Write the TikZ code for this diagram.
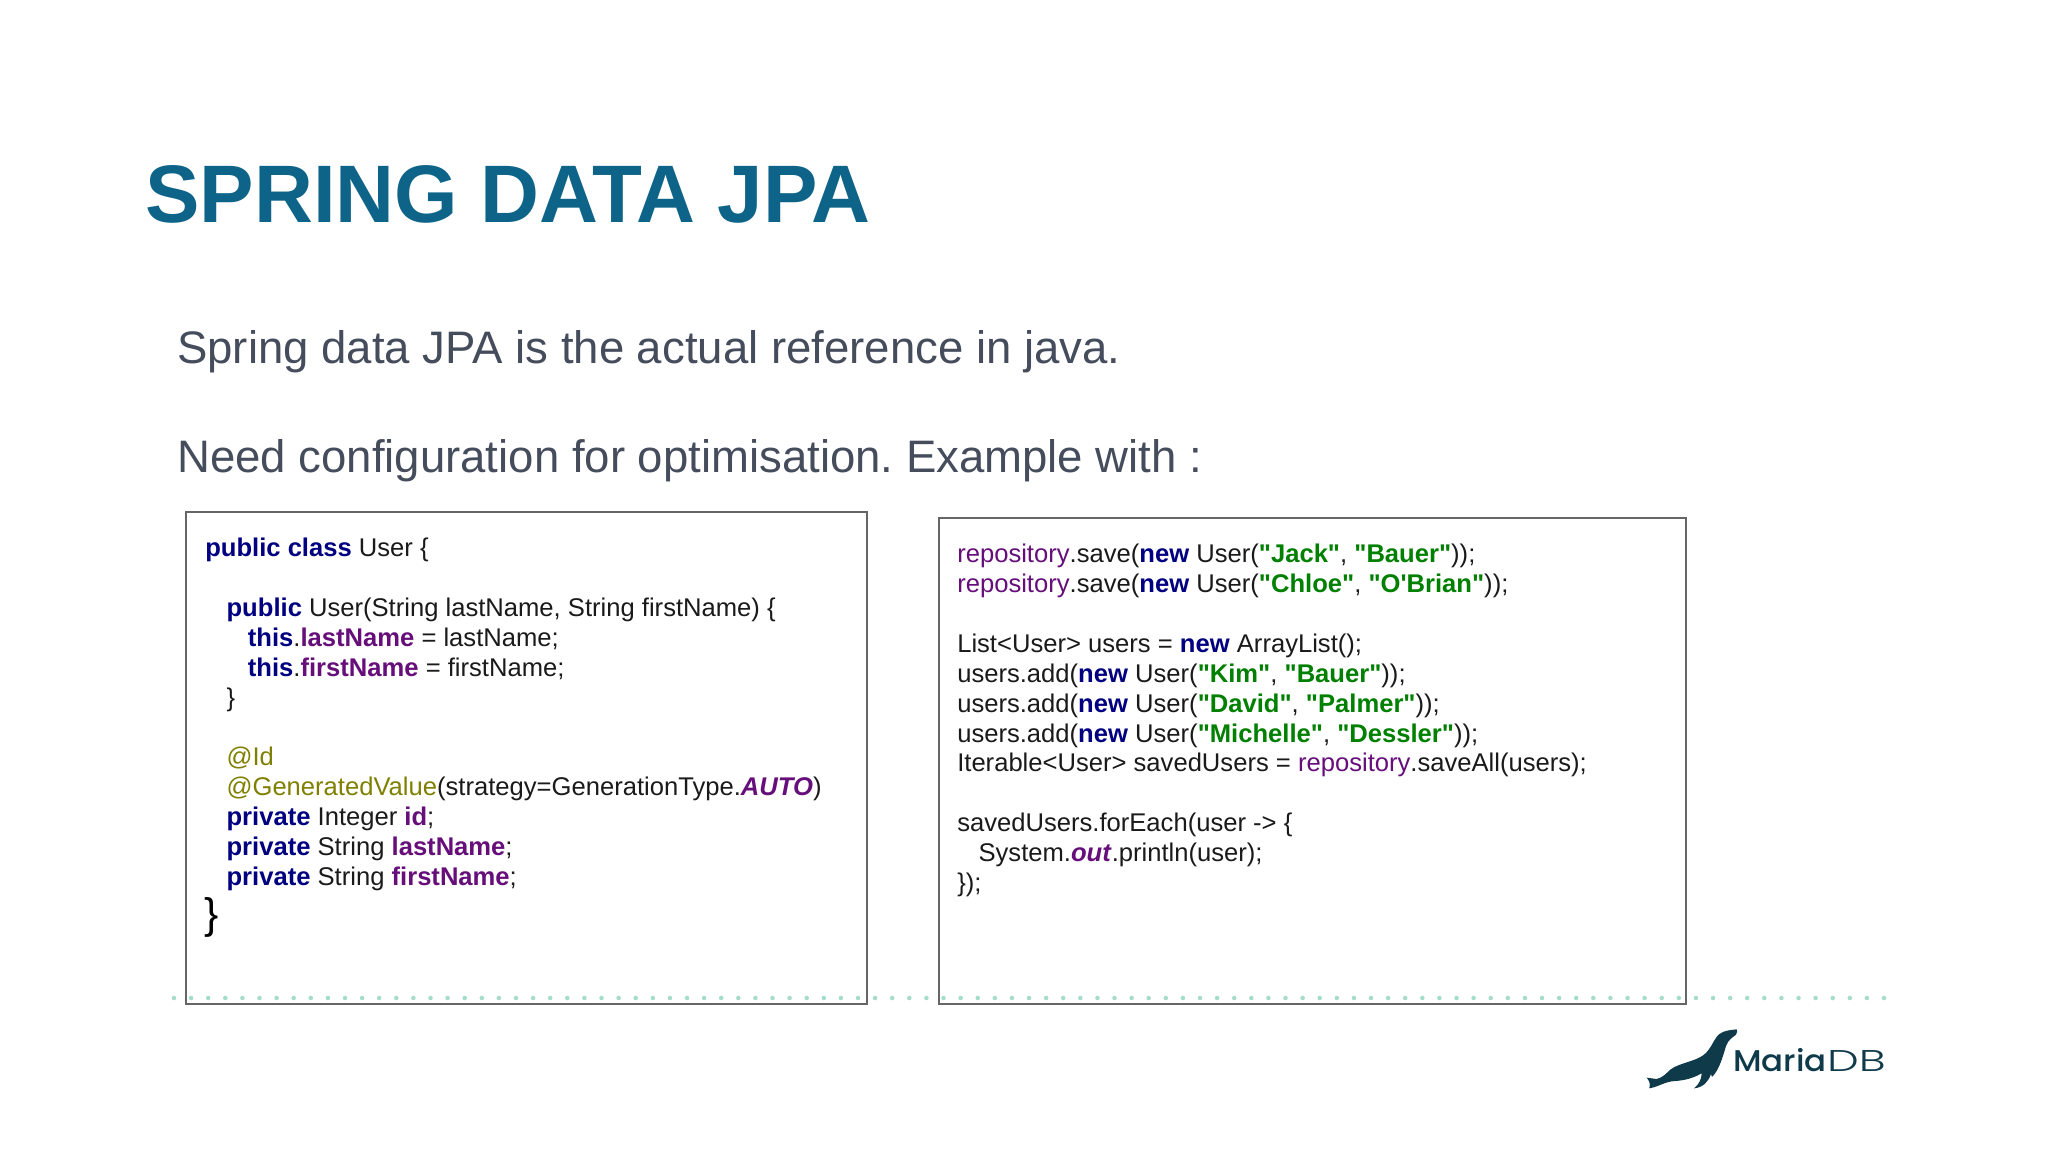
\documentclass[tikz,border=0pt]{standalone}
\usepackage{fontspec}
\setmainfont{Liberation Sans}
\newfontfamily\codefont{Liberation Sans}
\newfontfamily\mariafont{Poppins Medium}[FakeStretch=1.08]
\newfontfamily\dbfont{Poppins Light}[FakeStretch=1.5]
\usetikzlibrary{positioning}
\definecolor{titleblue}{HTML}{0E6488}
\definecolor{bodygray}{HTML}{454C5C}
\definecolor{boxgray}{HTML}{666666}
\definecolor{dotgreen}{HTML}{A5DCCB}
\definecolor{sealdark}{HTML}{0F3A4A}
\definecolor{kwblue}{HTML}{000080}
\definecolor{fldpurple}{HTML}{660E7A}
\definecolor{annolive}{HTML}{808000}
\definecolor{strgreen}{HTML}{008000}
\definecolor{codeblack}{HTML}{1A1A1A}
\newcommand{\kw}[1]{\textcolor{kwblue}{\textbf{#1}}}
\newcommand{\fld}[1]{\textcolor{fldpurple}{\textbf{#1}}}
\newcommand{\fldi}[1]{\textcolor{fldpurple}{\textbf{\textit{#1}}}}
\newcommand{\repo}{\textcolor{fldpurple}{repository}}
\newcommand{\anno}[1]{\textcolor{annolive}{#1}}
\newcommand{\str}[1]{\textcolor{strgreen}{\textbf{"#1"}}}
\newcommand{\inda}{\hspace*{16pt}}

\begin{document}
\frenchspacing
\begin{tikzpicture}[x=0.75pt,y=-0.75pt,
    code box/.style={draw=boxgray,line width=1.6pt},
    code text/.style={anchor=north west,inner sep=0pt,align=left,text=codeblack,font=\codefont\fontsize{19.2pt}{22.4pt}\selectfont},
    page dot/.style={circle,fill=dotgreen,inner sep=0pt,minimum size=3.4pt}]
   \useasboundingbox (0,0) rectangle (2048,1152);
   \fill[white] (0,0) rectangle (2048,1152);

   \node[anchor=base west,inner sep=0pt,text=titleblue,font=\fontsize{61.2pt}{62pt}\selectfont\bfseries] (title) at (145,222) {SPRING DATA JPA};
   \node[anchor=base west,inner sep=0pt,text=bodygray,font=\fontsize{34.15pt}{36pt}\selectfont] (line one) at (177,363) {Spring data JPA is the actual reference in java.};
   \node[anchor=base west,inner sep=0pt,text=bodygray,font=\fontsize{34.15pt}{36pt}\selectfont] (line two) at (177,472) {Need configuration for optimisation. Example with :};

   % dots along the foot
   \foreach \i in {0,...,100}
      \node[page dot] (dot\i) at (174+17.1*\i,998) {};

   \node[code box,minimum width=681pt*0.75,minimum height=492pt*0.75,anchor=north west] (user box) at (185,511) {};
   \node[code box,minimum width=747pt*0.75,minimum height=486pt*0.75,anchor=north west] (repo box) at (938,517) {};

   \node[code text] (user code) at (205,538) {%
      \kw{public class} User \{\\
      \mbox{}\\
      \inda\kw{public} User(String lastName, String firstName) \{\\
      \inda\inda\kw{this}.\fld{lastName} = lastName;\\
      \inda\inda\kw{this}.\fld{firstName} = firstName;\\
      \inda\}\\
      \mbox{}\\
      \inda\anno{@Id}\\
      \inda\anno{@GeneratedValue}(strategy=GenerationType.\fldi{AUTO})\\
      \inda\kw{private} Integer \fld{id};\\
      \inda\kw{private} String \fld{lastName};\\
      \inda\kw{private} String \fld{firstName};};
   \node[anchor=north west,inner sep=0pt,text=black,font=\codefont\fontsize{32pt}{34pt}\selectfont] (user end) at (204,897) {\}};

   \node[code text] (repo code) at (957,544) {%
      \repo.save(\kw{new} User(\str{Jack}, \str{Bauer}));\\
      \repo.save(\kw{new} User(\str{Chloe}, \str{O'Brian}));\\
      \mbox{}\\
      List<User> users = \kw{new} ArrayList();\\
      users.add(\kw{new} User(\str{Kim}, \str{Bauer}));\\
      users.add(\kw{new} User(\str{David}, \str{Palmer}));\\
      users.add(\kw{new} User(\str{Michelle}, \str{Dessler}));\\
      Iterable<User> savedUsers = \repo.saveAll(users);\\
      \mbox{}\\
      savedUsers.forEach(user -> \{\\
      \inda System.\fldi{out}.println(user);\\
      \});};

   % logo
   \begin{scope}[shift={(1600,980)},scale=1/3]
      \fill[sealdark] (410,148) .. controls (395,150) and (375,150) .. (358,162)
        .. controls (340,178) and (335,205) .. (312,224)
        .. controls (285,245) and (240,248) .. (212,268)
        .. controls (198,280) and (190,292) .. (170,297)
        .. controls (160,297) and (150,293) .. (140,293)
        .. controls (147,303) and (152,308) .. (148,325)
        .. controls (170,322) and (190,308) .. (215,304)
        .. controls (240,302) and (270,300) .. (305,280)
        .. controls (305,298) and (295,315) .. (282,325)
        .. controls (310,322) and (325,305) .. (333,282)
        .. controls (335,285) and (336,288) .. (336,291)
        .. controls (358,270) and (370,225) .. (378,198)
        .. controls (384,180) and (398,172) .. (408,164)
        .. controls (412,158) and (412,152) .. (410,148) -- cycle;
   \end{scope}
   \node[anchor=base west,inner sep=0pt,text=sealdark,font=\mariafont\fontsize{22.5pt}{24pt}\selectfont] (logo maria) at (1733,1071) {Maria};
   \node[anchor=base east,inner sep=0pt,text=sealdark,font=\dbfont\fontsize{22.5pt}{24pt}\selectfont] (logo db) at (1886,1071) {DB};
\end{tikzpicture}
\end{document}
